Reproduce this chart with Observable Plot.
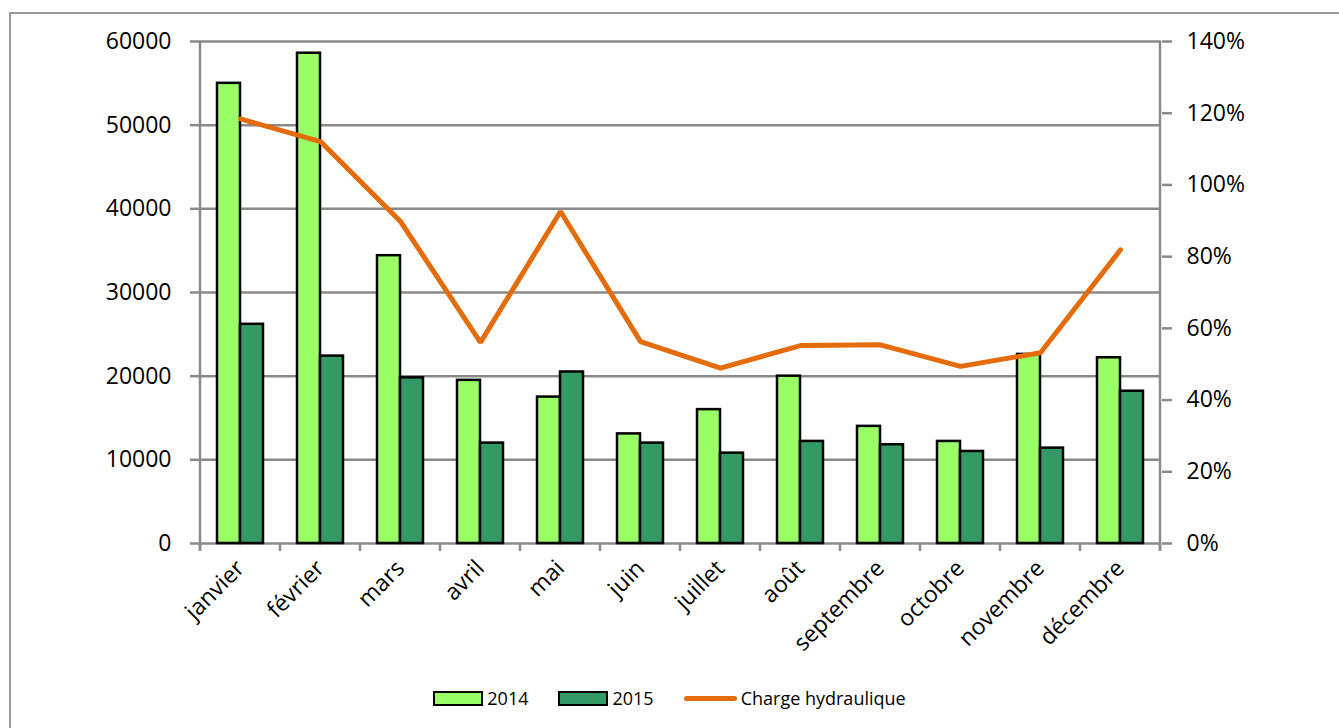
<!DOCTYPE html>
<html>
<head>
<meta charset="utf-8">
<script src="https://cdn.jsdelivr.net/npm/d3@7"></script>
<script src="https://cdn.jsdelivr.net/npm/@observablehq/plot@0.6"></script>
<style>
  html, body { margin: 0; padding: 0; background: #fff; overflow: hidden; }
  body { width: 1339px; height: 728px; position: relative; font-family: "Open Sans", sans-serif; }
  #frame { position: absolute; left: 9px; top: 12px; width: 1400px; height: 800px; border: 2px solid #999; box-sizing: border-box; }
  #chart { position: absolute; left: 0; top: 0; }
  #legend { position: absolute; left: 0; top: 686px; width: 1339px; display: flex; justify-content: center; align-items: center; font-size: 18px; color: #000; }
  .item { display: flex; align-items: center; margin: 0 15px; }
  .sw { width: 46px; height: 11px; border: 2px solid #000; margin-right: 4px; }
  .ln { width: 53px; height: 5px; border-radius: 3px; margin-right: 4px; }
</style>
</head>
<body>
<div id="frame"></div>
<div id="chart"></div>
<div id="legend"></div>
<script>
const months = ["janvier","février","mars","avril","mai","juin","juillet","août","septembre","octobre","novembre","décembre"];
const values2014 = [55000,58600,34400,19500,17500,13100,16000,20000,14000,12200,22600,22200];
const values2015 = [26200,22400,19800,12000,20500,12000,10800,12200,11800,11000,11400,18200];
const chargeHydraulique = [118.4,112.1,89.8,56.1,92.6,56.3,48.9,55.2,55.4,49.4,53.2,81.9];
const leftTicks = [0,10000,20000,30000,40000,50000,60000];
const rightTicks = [0,20,40,60,80,100,120,140];
const seriesNames = ["2014","2015","Charge hydraulique"];
const colors = {"2014": "#99FF66", "2015": "#339966", "Charge hydraulique": "#E46C0A"};

const LEFT_MAX = 60000, RIGHT_MAX = 140;
const toLeft = p => p * LEFT_MAX / RIGHT_MAX;

const rows2014 = months.map((m, i) => ({month: m, value: values2014[i]}));
const rows2015 = months.map((m, i) => ({month: m, value: values2015[i]}));
const rowsLine = months.map((m, i) => ({month: m, pct: chargeHydraulique[i]}));

const axisColor = "#8a8a8a";

function frameTicks(index, scales, values, dims) {
  const x = scales.x, y = scales.y;
  const bw = typeof x.bandwidth === "function" ? x.bandwidth() : x.bandwidth;
  const g = d3.create("svg:g").attr("stroke", axisColor).attr("stroke-width", 2.5).attr("fill", "none");
  const y0 = y(0);
  const top = y(LEFT_MAX);
  const left = x(months[0]);
  const right = x(months[months.length - 1]) + bw;
  g.append("line").attr("x1", left).attr("x2", left).attr("y1", top).attr("y2", y0 + 8);
  g.append("line").attr("x1", right).attr("x2", right).attr("y1", top).attr("y2", y0 + 8);
  const bounds = months.map(m => x(m)).concat([right]);
  for (const b of bounds) {
    g.append("line").attr("x1", b).attr("x2", b).attr("y1", y0).attr("y2", y0 + 8);
  }
  return g.node();
}

const chart = Plot.plot({
  width: 1339,
  height: 660,
  marginLeft: 199,
  marginRight: 178,
  marginTop: 41,
  marginBottom: 117,
  style: {fontFamily: "'Open Sans', sans-serif", fontSize: "23px", color: "#000", background: "transparent"},
  x: {domain: months, type: "band", paddingInner: 0, paddingOuter: 0, label: null},
  y: {domain: [0, LEFT_MAX], label: null},
  marks: [
    Plot.gridY(leftTicks, {stroke: axisColor, strokeOpacity: 1, strokeWidth: 2.5}),
    Plot.barY(rows2014, {x: "month", y: "value", fill: colors["2014"], stroke: "#000", strokeWidth: 2.5, insetLeft: 17, insetRight: 40}),
    Plot.barY(rows2015, {x: "month", y: "value", fill: colors["2015"], stroke: "#000", strokeWidth: 2.5, insetLeft: 40, insetRight: 17}),
    frameTicks,
    Plot.axisY(leftTicks, {anchor: "left", tickSize: 9, tickPadding: 19, stroke: axisColor, strokeWidth: 2.5, fontSize: 23, tickFormat: d => String(d), label: null}),
    Plot.axisY(rightTicks.map(toLeft), {anchor: "right", tickSize: 10, tickPadding: 15, stroke: axisColor, strokeWidth: 2.5, fontSize: 23, tickFormat: v => Math.round(v * RIGHT_MAX / LEFT_MAX) + "%", label: null}),
    Plot.axisX({tickRotate: -45, tickSize: 0, tickPadding: 21, fontSize: 23, label: null}),
    Plot.line(rowsLine, {x: "month", y: d => toLeft(d.pct), stroke: colors["Charge hydraulique"], strokeWidth: 5, strokeLinecap: "round", strokeLinejoin: "miter"})
  ]
});
document.getElementById("chart").appendChild(chart);

const legend = document.getElementById("legend");
for (const name of seriesNames) {
  const item = document.createElement("div");
  item.className = "item";
  const sw = document.createElement("div");
  sw.className = name === "Charge hydraulique" ? "ln" : "sw";
  sw.style.background = colors[name];
  const label = document.createElement("span");
  label.textContent = name;
  item.appendChild(sw);
  item.appendChild(label);
  legend.appendChild(item);
}
</script>
</body>
</html>
